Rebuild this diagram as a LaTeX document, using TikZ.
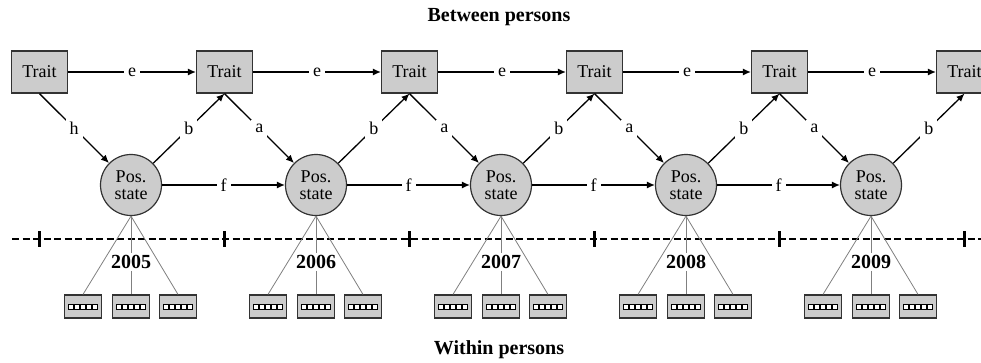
\documentclass[tikz,border=0pt]{standalone}
\usepackage{fontspec}
\setmainfont{Liberation Serif}
\usetikzlibrary{arrows.meta}
\tikzset{trait/.style={draw=black!80,fill=black!20,line width=1.2pt,
minimum width=56pt,minimum height=42pt,inner sep=0pt,font=\fontsize{18}{20}\selectfont},
posstate/.style={circle,draw=black!80,fill=black!20,line width=1.2pt,minimum size=61pt,
inner sep=0pt,align=center,font=\fontsize{18}{17.5}\selectfont},
itembox/.style={draw=black!80,fill=black!20,line width=1.2pt,minimum width=37pt,
minimum height=23pt,inner sep=0pt,path picture={
\foreach \k in {-2,...,2}
\draw[fill=white,draw=black,line width=0.9pt] ([xshift=\k*5.8pt]path picture bounding box.center)
++(-2.5pt,-2.5pt) rectangle ++(5pt,5pt);}},
pathlabel/.style={fill=white,inner sep=4pt,font=\fontsize{18}{20}\selectfont},
yearlabel/.style={font=\bfseries\fontsize{20}{22}\selectfont,inner sep=2pt},
heading/.style={font=\bfseries\fontsize{20}{22}\selectfont},
link/.style={-{Latex[length=8pt,width=7pt]},line width=1.3pt},
itemlink/.style={draw=black!50,line width=0.8pt}}

\begin{document}
\begin{tikzpicture}[x=1pt,y=-1pt]
	\useasboundingbox (0,0) rectangle (981,362);
	\clip (0,0) rectangle (981,362);
	
	\node[heading] (between) at (499,17) {Between persons};
	\node[heading] (within) at (499,350) {Within persons};
	
	% Traits
	\foreach \i in {0,...,5}
		\node[trait] (trait\i) at (39.5+185*\i,72) {Trait};
	
	% States, years and items
	\foreach \i/\yr in {0/2005,1/2006,2/2007,3/2008,4/2009}
	{
		\node[posstate] (state\i) at (131+185*\i,185) {Pos.\\state};
		\node[yearlabel] (year\i) at (131+185*\i,262) {\yr};
		\node[itembox] (itemA\i) at (83+185*\i,306.5) {};
		\node[itembox] (itemB\i) at (131+185*\i,306.5) {};
		\node[itembox] (itemC\i) at (178+185*\i,306.5) {};
	}
	
	% Time axis
	\draw[line width=1.9pt, dash pattern=on 7pt off 3.5pt] (12,239) -- (985,239);
	\foreach \i in {0,...,5}
		\draw[line width=2.2pt] (39.5+185*\i,231) -- ++(0,16);
	
	% Paths
	\foreach \i/\lbl in {0/h,1/a,2/a,3/a,4/a}
		\draw[link] (trait\i.south) -- node[pathlabel]{\lbl} (state\i);
	\foreach \i in {0,...,4}
	{
		\pgfmathtruncatemacro\j{\i+1}
		\draw[link] (trait\i) -- node[pathlabel]{e} (trait\j);
		\draw[link] (state\i) -- node[pathlabel]{b} (trait\j.south);
	}
	\foreach \i in {0,...,3}
	{
		\pgfmathtruncatemacro\j{\i+1}
		\draw[link] (state\i) -- node[pathlabel]{f} (state\j);
	}
	
	% Items
	\foreach \i in {0,...,4}
	{
		\draw[itemlink] (state\i.south) -- (itemA\i.north);
		\draw[itemlink] (state\i.south) -- (year\i.north);
		\draw[itemlink] (year\i.south) -- (itemB\i.north);
		\draw[itemlink] (state\i.south) -- (itemC\i.north);
	}
\end{tikzpicture}
\end{document}
